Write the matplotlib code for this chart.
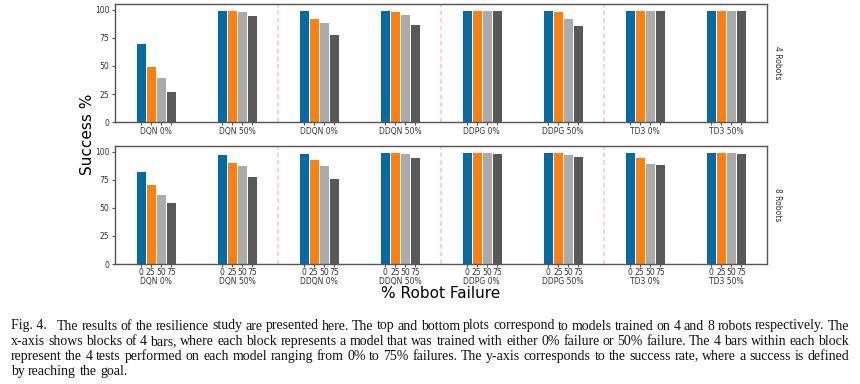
import matplotlib
matplotlib.use("Agg")
import matplotlib.pyplot as plt
import numpy as np

# data
models = ["DQN 0%", "DQN 50%", "DDQN 0%", "DDQN 50%", "DDPG 0%", "DDPG 50%", "TD3 0%", "TD3 50%"]
failure_levels = ["0", "25", "50", "75"]
robot_rows = ["4 Robots", "8 Robots"]

# success % per model, one list per tested failure level (0, 25, 50, 75 %)
success_4_robots = [
    [70, 100, 100, 100, 100, 100, 100, 100],
    [50, 100, 93, 99, 100, 98.5, 100, 100],
    [40, 99, 89, 96, 100, 93, 100, 100],
    [28, 95, 78, 87.5, 100, 86, 100, 100],
]
success_8_robots = [
    [82.5, 98, 99, 99.5, 99.5, 99.5, 99.5, 99.5],
    [71, 91, 93.5, 99.5, 99.5, 99.5, 95.5, 99.5],
    [62.5, 88.5, 88, 99, 99.5, 97.5, 89.5, 99.5],
    [55, 78.5, 76.5, 95.5, 99, 96, 89, 98.5],
]

bar_colors = ["#006BA4", "#FF800E", "#ABABAB", "#595959"]
separators = [1.5, 3.5, 5.5]

caption_lines = [
    "The results of the resilience study are presented here. The top and bottom plots correspond to models trained on 4 and 8 robots respectively. The",
    "x-axis shows blocks of 4 bars, where each block represents a model that was trained with either 0% failure or 50% failure. The 4 bars within each block",
    "represent the 4 tests performed on each model ranging from 0% to 75% failures. The y-axis corresponds to the success rate, where a success is defined",
    "by reaching the goal.",
]

FIG_W, FIG_H = 860, 384
BAR_W = 0.1227
SPINE = "#555555"


def draw_panel(ax, values, row_name, show_bar_labels):
    x = np.arange(len(models))
    offsets = (np.arange(len(failure_levels)) - 1.5) * BAR_W
    tick_pos = []
    tick_lab = []
    for k, level in enumerate(failure_levels):
        ax.bar(x + offsets[k], values[k], width=BAR_W, color=bar_colors[k],
               edgecolor="white", linewidth=0.7, zorder=2)
    for i in x:
        for k, level in enumerate(failure_levels):
            tick_pos.append(i + offsets[k])
            tick_lab.append(level)

    for sep in separators:
        ax.axvline(sep, color="pink", linestyle=(0, (3, 2)), linewidth=1.1, zorder=1)

    ax.set_xlim(-0.5, len(models) - 0.5)
    ax.set_ylim(0, 105)
    ax.set_yticks([0, 25, 50, 75, 100])
    ax.set_xticks(tick_pos)
    ax.set_xticklabels(tick_lab if show_bar_labels else [""] * len(tick_lab))
    ax.tick_params(axis="x", length=2, pad=0.8, labelsize=5.5, color=SPINE, labelcolor="#333333")
    ax.tick_params(axis="y", length=2.5, pad=1.5, labelsize=5.5, color=SPINE, labelcolor="#333333")
    for spine in ax.spines.values():
        spine.set_color(SPINE)
        spine.set_linewidth(1.0)

    label_offset = 12.7 if show_bar_labels else 6.3
    for i, name in enumerate(models):
        ax.annotate(name, xy=(i, 0), xycoords=("data", "axes fraction"),
                    xytext=(0, -label_offset), textcoords="offset points",
                    ha="center", va="center", fontsize=5.5, color="#333333")

    ax.annotate(row_name, xy=(1, 0.5), xycoords="axes fraction",
                xytext=(7.3, 0), textcoords="offset points", rotation=270,
                ha="center", va="center", fontsize=5.5, color="#333333")


def draw_caption(fig, lines, x0, x1, y0, step):
    renderer = fig.canvas.get_renderer()
    style = dict(family="Liberation Serif", color="#111111", va="center", ha="left")

    def width(txt, size):
        t = fig.text(0, 0, txt, fontsize=size, **style)
        w = t.get_window_extent(renderer).width
        t.remove()
        return w

    # pick the size where the full lines fill the column at normal spacing
    natural = width("Fig. 4.  " + lines[0], 10) + width(lines[1], 10) + width(lines[2], 10)
    size = 10 * 3 * (x1 - x0) / natural

    space = width("a b", size) - width("ab", size)
    for n, line in enumerate(lines):
        y = 1 - (y0 + n * step) / FIG_H
        start = x0
        if n == 0:
            fig.text(x0 / FIG_W, y, "Fig. 4.", fontsize=size, **style)
            start = x0 + width("Fig. 4.", size) + 3 * space
        words = line.split(" ")
        widths = [width(w, size) for w in words]
        if n < len(lines) - 1:
            gap = (x1 - start - sum(widths)) / (len(words) - 1)
        else:
            gap = space
        pos = start
        for w, wd in zip(words, widths):
            fig.text(pos / FIG_W, y, w, fontsize=size, **style)
            pos += wd + gap


fig = plt.figure(figsize=(8.6, 3.84), dpi=100)
ax_top = fig.add_axes([115 / FIG_W, 1 - 122.3 / FIG_H, 652 / FIG_W, 118.3 / FIG_H])
ax_bot = fig.add_axes([115 / FIG_W, 1 - 264 / FIG_H, 652 / FIG_W, 118 / FIG_H])

draw_panel(ax_top, success_4_robots, robot_rows[0], show_bar_labels=False)
draw_panel(ax_bot, success_8_robots, robot_rows[1], show_bar_labels=True)

fig.text(87 / FIG_W, 1 - 134 / FIG_H, "Success %", rotation=90, ha="center", va="center", fontsize=11)
fig.text(441 / FIG_W, 1 - 293 / FIG_H, "% Robot Failure", ha="center", va="center", fontsize=11)

draw_caption(fig, caption_lines, 10.7, 849, 326, 15.3)

fig.savefig("out.png", dpi=100)
plt.close(fig)
